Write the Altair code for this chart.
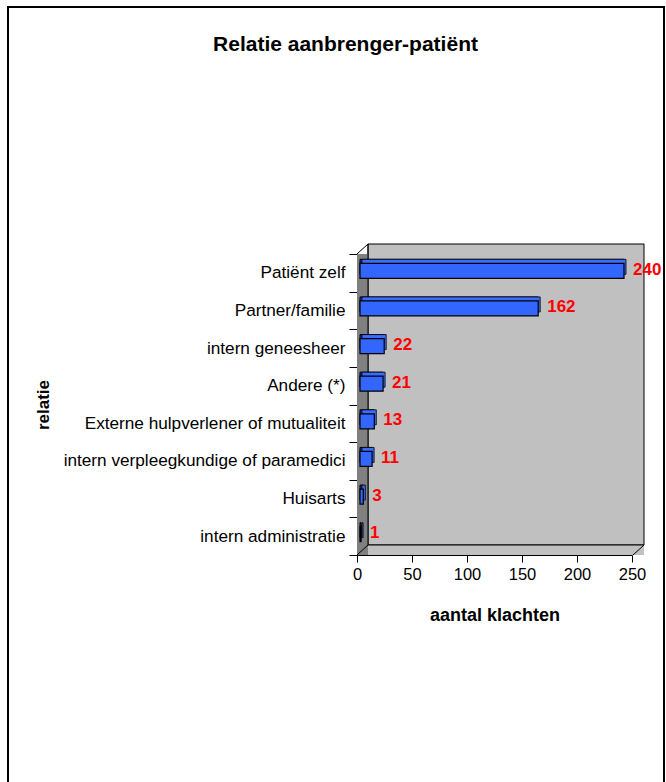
import altair as alt
import pandas as pd

title_text = "Relatie aanbrenger-patiënt"
categories = [
    "Patiënt zelf",
    "Partner/familie",
    "intern geneesheer",
    "Andere (*)",
    "Externe hulpverlener of mutualiteit",
    "intern verpleegkundige of paramedici",
    "Huisarts",
    "intern administratie",
]
values = [240, 162, 22, 21, 13, 11, 3, 1]
x_ticks = [0, 50, 100, 150, 200, 250]

df = pd.DataFrame({"relatie": categories, "aantal": values})

FONT = "Liberation Sans"
W, H = 275, 301

x_enc = alt.X("aantal:Q", scale=alt.Scale(domain=[0, 250], nice=False),
              axis=alt.Axis(values=x_ticks, title="aantal klachten",
                            grid=False, tickSize=7, labelPadding=4, labelFlush=False,
                            labelFontSize=16.5, labelFont=FONT, labelColor="black",
                            titleFont=FONT, titleFontSize=18, titleFontWeight="bold",
                            titleColor="black", titleY=65, titleBaseline="alphabetic",
                            domainColor="black", tickColor="black"))
y_enc = alt.Y("relatie:N", sort=categories,
              axis=alt.Axis(title="relatie", tickBand="extent", tickSize=8,
                            labelPadding=4, labelFontSize=17.2, labelFont=FONT,
                            labelColor="black", labelLimit=400,
                            titleFont=FONT, titleFontSize=17, titleFontWeight="bold",
                            titleColor="black", titleX=-305, titleY=150.5,
                            domainColor="black", tickColor="black"),
              scale=alt.Scale(paddingInner=0, paddingOuter=0))

base = alt.Chart(df)
one = pd.DataFrame({"t": [title_text]})

title = alt.Chart(one).mark_text(font=FONT, fontSize=21, fontWeight="bold", color="black",
                                 align="center", baseline="alphabetic").encode(
    text="t:N", x=alt.value(-11.5), y=alt.value(-203))

frame = alt.Chart(one).mark_rect(fill=None, stroke="black", strokeWidth=2).encode(
    x=alt.value(-349), x2=alt.value(307), y=alt.value(-247), y2=alt.value(560))

back_wall = alt.Chart(one).mark_rect(fill="#c0c0c0", stroke="black", strokeWidth=1).encode(
    x=alt.value(11), x2=alt.value(287), y=alt.value(-10), y2=alt.value(291))
floor = alt.Chart(one).mark_rect(fill="#c0c0c0", stroke=None).encode(
    x=alt.value(0), x2=alt.value(287), y=alt.value(291), y2=alt.value(301))
left_wall = alt.Chart(one).mark_rect(fill="#808080", stroke=None).encode(
    x=alt.value(0), x2=alt.value(11), y=alt.value(0), y2=alt.value(301))
diag1 = alt.Chart(one).mark_rule(color="black", strokeWidth=1).encode(
    x=alt.value(0), x2=alt.value(11), y=alt.value(0), y2=alt.value(-10))
diag2 = alt.Chart(one).mark_rule(color="black", strokeWidth=1).encode(
    x=alt.value(276), x2=alt.value(287), y=alt.value(301), y2=alt.value(291))
diag3 = alt.Chart(one).mark_rule(color="black", strokeWidth=1).encode(
    x=alt.value(0), x2=alt.value(11), y=alt.value(301), y2=alt.value(291))
floor_edge = alt.Chart(one).mark_rule(color="black", strokeWidth=1).encode(
    x=alt.value(11), x2=alt.value(287), y=alt.value(291))
wall_edge = alt.Chart(one).mark_rule(color="black", strokeWidth=1).encode(
    x=alt.value(11), y=alt.value(-10), y2=alt.value(291))

bar_side = base.mark_bar(size=15, color="#1f2f8f", stroke="black", strokeWidth=1,
                         xOffset=3, x2Offset=7, yOffset=-6).encode(
    x=x_enc, y=y_enc)
bar_top = base.mark_bar(size=15, color="#3a6cff", stroke="black", strokeWidth=0.8,
                        xOffset=5, x2Offset=3, yOffset=-6).encode(
    x=alt.X("aantal:Q"), y=alt.Y("relatie:N", sort=categories))
bar_front = base.mark_bar(size=15, color="#3366ff", stroke="black", strokeWidth=1.2,
                          xOffset=3, x2Offset=3, yOffset=-2).encode(
    x=alt.X("aantal:Q"), y=alt.Y("relatie:N", sort=categories))

labels = base.mark_text(align="left", baseline="middle", dx=12, dy=-3, color="#ff0000",
                        font=FONT, fontSize=17, fontWeight="bold").encode(
    x=alt.X("aantal:Q"), y=alt.Y("relatie:N", sort=categories),
    text=alt.Text("aantal:Q"))

chart = alt.layer(
    frame, title, back_wall, floor, left_wall, floor_edge, wall_edge, diag1, diag2, diag3,
    bar_side, bar_top, bar_front, labels
).properties(
    width=W, height=H,
    autosize=alt.AutoSizeParams(type="none"),
    padding={"left": 357, "top": 254, "right": 34, "bottom": 227},
).configure_view(stroke=None).configure(background="white")

chart.save("out.html", embed_options={"renderer": "svg", "actions": False})
